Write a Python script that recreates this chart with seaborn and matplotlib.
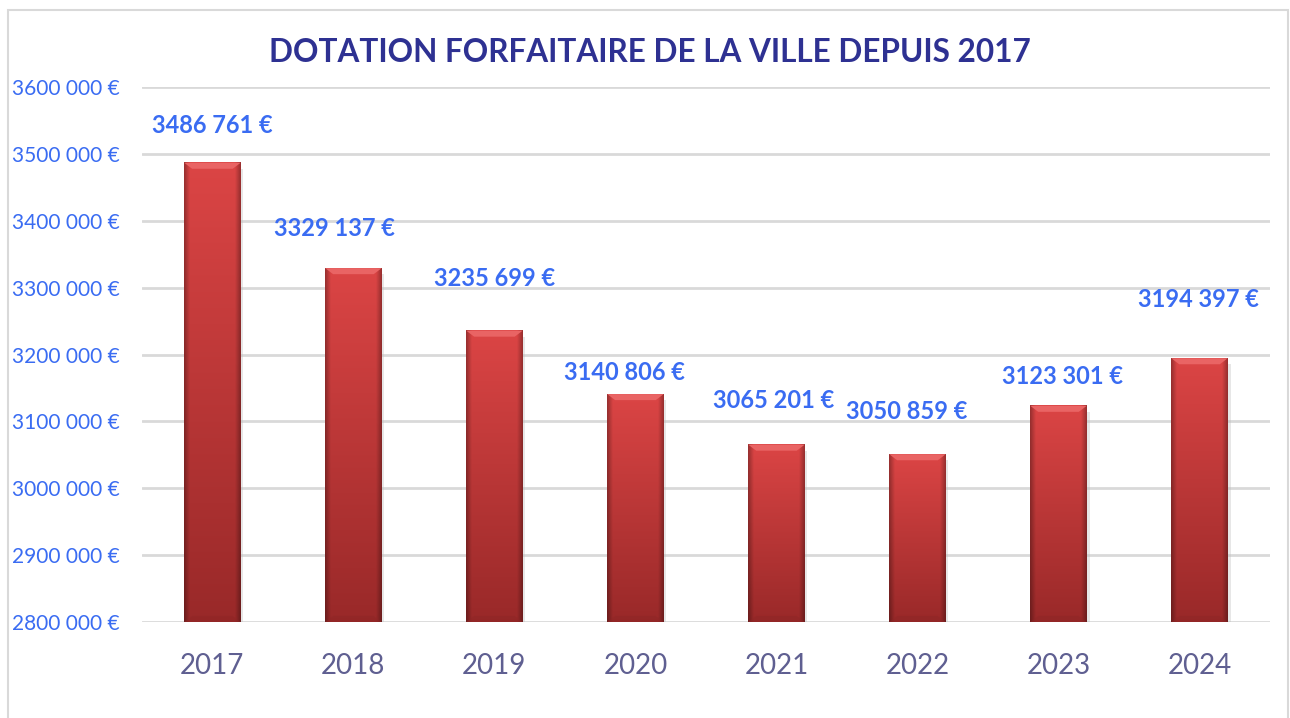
import numpy as np
import pandas as pd
import matplotlib
matplotlib.use("Agg")
import matplotlib.pyplot as plt
import seaborn as sns
from matplotlib.patches import Rectangle, Polygon

years = ["2017", "2018", "2019", "2020", "2021", "2022", "2023", "2024"]
dotation = [3486761, 3329137, 3235699, 3140806, 3065201, 3050859, 3123301, 3194397]
y_ticks = [2800000, 2900000, 3000000, 3100000, 3200000, 3300000, 3400000, 3500000, 3600000]
title = "DOTATION FORFAITAIRE DE LA VILLE DEPUIS 2017"

# label offsets (points) as placed by hand in the original
label_dx = [0, -14, 0, -8, -2, -8, 3, -1]
label_dy = [27, 28.5, 37.5, 15.5, 31.5, 30.5, 21, 42]


def euro(v):
    v = int(v)
    return f"{v // 1000} {v % 1000:03d} €"


sns.set_theme(style="white")
plt.rcParams["font.family"] = ["Lato", "DejaVu Sans"]

df = pd.DataFrame({"annee": years, "montant": dotation})

fig = plt.figure(figsize=(12.9, 7.18), dpi=100)
ax = fig.add_axes([0.110, 0.1337, 0.8745, 0.7451])

sns.barplot(data=df, x="annee", y="montant", color="#c83636", width=0.40,
            ax=ax, zorder=3, saturation=1)

ymin, ymax = y_ticks[0], y_ticks[-1]

# gradient / bevel look of the excel bars
grad_v = np.linspace(0, 1, 120)[:, None]
grad_h = np.linspace(-1, 1, 80)[None, :]
top_c = np.array([0.86, 0.27, 0.27])
bot_c = np.array([0.60, 0.16, 0.16])
img = top_c * (1 - grad_v[..., None]) + bot_c * grad_v[..., None]
edge = 1 - 0.30 * np.clip((np.abs(grad_h) - 0.8) / 0.2, 0, 1)
img = img * edge[..., None]
for p in ax.patches:
    x0, w = p.get_x(), p.get_width()
    top = p.get_y() + p.get_height()
    p.set_visible(False)
    ax.imshow(img, extent=(x0, x0 + w, ymin, top), aspect="auto",
              origin="upper", zorder=3, interpolation="bilinear")
    bev = 9000
    ax.add_patch(Polygon([(x0, top), (x0 + w, top),
                          (x0 + w * 0.86, top - bev), (x0 + w * 0.14, top - bev)],
                         closed=True, facecolor="#e96464", edgecolor="none", zorder=4))
    ax.add_patch(Polygon([(x0, ymin), (x0 + w, ymin),
                          (x0 + w * 0.86, ymin + bev), (x0 + w * 0.14, ymin + bev)],
                         closed=True, facecolor="#8e2626", edgecolor="none",
                         alpha=0.5, zorder=4))
    ax.add_patch(Rectangle((x0 + w, ymin), w * 0.05, top - ymin - bev,
                           facecolor="#bbbbbb", alpha=0.35, edgecolor="none", zorder=2))
ax.set_ylim(ymin, ymax)
ax.set_xlim(-0.5, len(years) - 0.5)

for i, v in enumerate(dotation):
    ax.annotate(euro(v), (i, v), xytext=(label_dx[i], label_dy[i]),
                textcoords="offset points", ha="center", va="center",
                fontsize=17, fontweight="bold", color="#3a6cf2", zorder=5)

ax.set_yticks(y_ticks)
ax.set_yticklabels([euro(t) for t in y_ticks])
ax.tick_params(axis="y", labelsize=15, labelcolor="#3a6cf2", length=0, pad=0)
for lab in ax.get_yticklabels():
    lab.set_horizontalalignment("left")
    lab.set_x(-0.115)
ax.tick_params(axis="x", labelsize=20, labelcolor="#5f5f91", length=0, pad=22)

ax.grid(axis="y", color="#d9d9d9", linewidth=2, zorder=0)
ax.set_axisbelow(True)
for s in ax.spines.values():
    s.set_visible(False)
ax.set_xlabel("")
ax.set_ylabel("")

fig.text(0.504, 0.927, title, ha="center", va="center", fontsize=22.7,
         fontweight="bold", color="#2e3192")

fig.patches.append(Rectangle((8 / 1290, -0.01), 1280 / 1290, 1 - 10 / 718 + 0.01,
                             transform=fig.transFigure, fill=False,
                             edgecolor="#d9d9d9", linewidth=1.5))

fig.savefig("out.png", dpi=100)
